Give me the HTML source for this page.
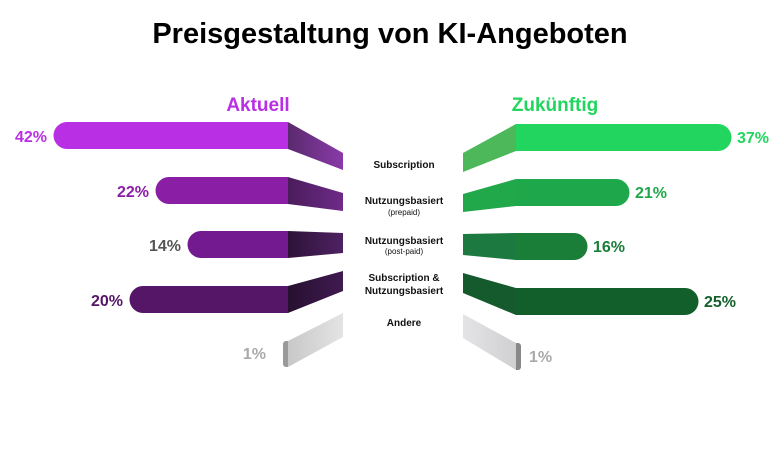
<!DOCTYPE html>
<html><head><meta charset="utf-8"><style>
body{margin:0;background:#fff;width:780px;height:470px;overflow:hidden;font-family:"Liberation Sans",sans-serif}
</style></head><body>
<svg width="780" height="470" viewBox="0 0 780 470" xmlns="http://www.w3.org/2000/svg" font-family="Liberation Sans, sans-serif">
<defs>
<linearGradient id="l1" x1="0" x2="1"><stop offset="0" stop-color="#5a2a6e"/><stop offset="1" stop-color="#8a3aa8"/></linearGradient>
<linearGradient id="l2" x1="0" x2="1"><stop offset="0" stop-color="#4a1c5c"/><stop offset="1" stop-color="#6e2a88"/></linearGradient>
<linearGradient id="l3" x1="0" x2="1"><stop offset="0" stop-color="#2e1238"/><stop offset="1" stop-color="#4e2262"/></linearGradient>
<linearGradient id="l4" x1="0" x2="1"><stop offset="0" stop-color="#261030"/><stop offset="1" stop-color="#401a50"/></linearGradient>
<linearGradient id="l5" x1="0" x2="1"><stop offset="0" stop-color="#c8c8c8"/><stop offset="1" stop-color="#e4e4e4"/></linearGradient>
<linearGradient id="r5" x1="0" x2="1"><stop offset="0" stop-color="#e4e4e6"/><stop offset="1" stop-color="#d0d0d2"/></linearGradient>
</defs>
<text x="390" y="43" text-anchor="middle" font-size="29" font-weight="bold" fill="#000">Preisgestaltung von KI-Angeboten</text>
<text x="258" y="111" text-anchor="middle" font-size="19" font-weight="bold" fill="#b92fe4">Aktuell</text>
<text x="555" y="111" text-anchor="middle" font-size="19" font-weight="bold" fill="#22d55e">Zukünftig</text>
<!-- left -->
<path d="M67,122H288V149H67A13.5,13.5 0 0 1 67,122Z" fill="#b92fe4"/>
<path d="M288,122L343,153V170L288,149Z" fill="url(#l1)"/>
<path d="M169,177H288V204H169A13.5,13.5 0 0 1 169,177Z" fill="#8a1fa6"/>
<path d="M288,177L343,193V211L288,204Z" fill="url(#l2)"/>
<path d="M201,231H288V258H201A13.5,13.5 0 0 1 201,231Z" fill="#731a90"/>
<path d="M288,231L343,233V253L288,258Z" fill="url(#l3)"/>
<path d="M143,286H288V313H143A13.5,13.5 0 0 1 143,286Z" fill="#551667"/>
<path d="M288,286L343,271V291L288,313Z" fill="url(#l4)"/>
<path d="M288,341L343,313V337L288,367Z" fill="url(#l5)"/>
<path d="M288,341V367H286A3,3 0 0 1 283,364V344A3,3 0 0 1 286,341Z" fill="#9a9a9a"/>
<text x="47" y="142" text-anchor="end" font-size="16" font-weight="bold" fill="#b92fe4">42%</text>
<text x="149" y="197" text-anchor="end" font-size="16" font-weight="bold" fill="#8a1fa6">22%</text>
<text x="181" y="251" text-anchor="end" font-size="16" font-weight="bold" fill="#555">14%</text>
<text x="123" y="306" text-anchor="end" font-size="16" font-weight="bold" fill="#551667">20%</text>
<text x="266" y="359" text-anchor="end" font-size="16" font-weight="bold" fill="#aaa">1%</text>
<!-- right -->
<path d="M516,124H718A13.5,13.5 0 0 1 718,151H516Z" fill="#22d55e"/>
<path d="M463,153L516,124V151L463,172Z" fill="#4cb85a"/>
<path d="M516,179H616A13.5,13.5 0 0 1 616,206H516Z" fill="#1ea84b"/>
<path d="M463,194L516,179V206L463,212Z" fill="#20a84a"/>
<path d="M516,233H574A13.5,13.5 0 0 1 574,260H516Z" fill="#1a7d38"/>
<path d="M463,234L516,233V260L463,255Z" fill="#1c7a40"/>
<path d="M516,288H685A13.5,13.5 0 0 1 685,315H516Z" fill="#135f2c"/>
<path d="M463,273L516,288V315L463,293Z" fill="#145a2c"/>
<path d="M463,314L516,343V370L463,338Z" fill="url(#r5)"/>
<path d="M516,343H518A3,3 0 0 1 521,346V367A3,3 0 0 1 518,370H516Z" fill="#888"/>
<text x="737" y="143" font-size="16" font-weight="bold" fill="#22d55e">37%</text>
<text x="635" y="198" font-size="16" font-weight="bold" fill="#1ea84b">21%</text>
<text x="593" y="252" font-size="16" font-weight="bold" fill="#1a7d38">16%</text>
<text x="704" y="307" font-size="16" font-weight="bold" fill="#135f2c">25%</text>
<text x="529" y="362" font-size="16" font-weight="bold" fill="#aaa">1%</text>
<!-- center labels -->
<g text-anchor="middle" fill="#111">
<text x="404" y="168" font-size="10" font-weight="bold">Subscription</text>
<text x="404" y="204" font-size="10" font-weight="bold">Nutzungsbasiert</text>
<text x="404" y="215" font-size="8">(prepaid)</text>
<text x="404" y="244" font-size="10" font-weight="bold">Nutzungsbasiert</text>
<text x="404" y="254" font-size="8">(post-paid)</text>
<text x="404" y="281" font-size="10" font-weight="bold">Subscription &amp;</text>
<text x="404" y="294" font-size="10" font-weight="bold">Nutzungsbasiert</text>
<text x="404" y="326" font-size="10" font-weight="bold">Andere</text>
</g>
</svg>
</body></html>
